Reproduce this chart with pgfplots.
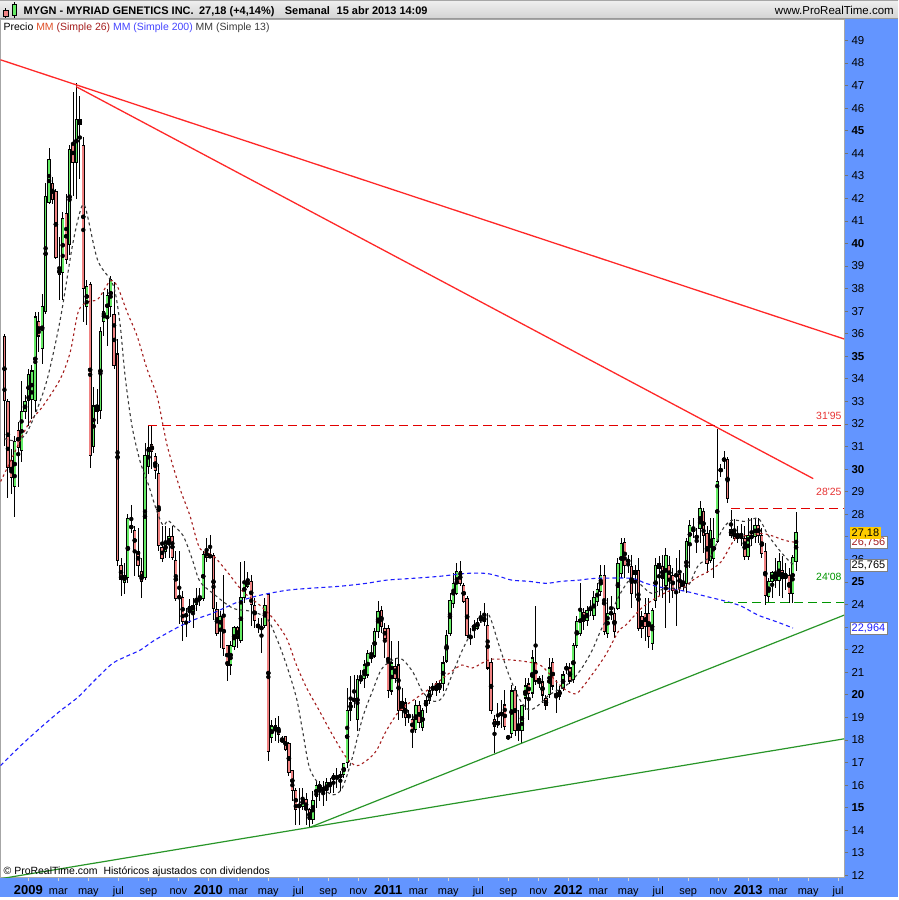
\documentclass[border=0pt]{standalone}
\usepackage{pgfplots}
\pgfplotsset{compat=1.18}
\usepackage{pgfplotstable}
\usepackage{fontspec}
\setmainfont{Liberation Sans}

\pgfdeclarelayer{background}
\pgfsetlayers{background,main}

\definecolor{stripblue}{RGB}{99,149,255}
\definecolor{upgreen}{RGB}{100,235,100}
\definecolor{downred}{RGB}{240,130,130}
\definecolor{trendred}{RGB}{255,40,40}
\definecolor{trendgreen}{RGB}{40,150,40}
\definecolor{mared}{RGB}{165,30,30}
\definecolor{mablue}{RGB}{30,30,255}
\definecolor{magray}{RGB}{60,60,60}
\definecolor{levred}{RGB}{225,0,0}
\definecolor{levgreen}{RGB}{0,150,0}
\definecolor{mmorange}{RGB}{224,80,40}
\definecolor{legblue}{RGB}{70,70,255}

% weekly candles: i = week index, o h l c
\pgfplotstableread{
i o h l c
0 35.86 35.99 31.04 33.03
1 32.98 33.10 28.70 30.07
2 30.38 30.90 28.90 29.63
3 29.23 31.48 27.90 31.22
4 31.70 32.10 29.23 30.95
5 30.82 33.90 30.33 32.54
6 32.54 33.30 32.20 32.98
7 33.03 34.44 31.90 34.18
8 33.10 34.60 32.20 34.35
9 33.03 36.96 32.54 36.74
10 36.56 36.96 35.20 35.90
11 35.33 37.76 34.66 37.20
12 37.00 42.70 36.87 42.09
13 41.82 44.25 41.73 43.72
14 42.66 42.93 41.73 41.95
15 42.31 42.40 39.30 39.39
16 38.86 40.30 37.50 38.64
17 38.73 41.40 37.50 41.12
18 41.34 42.20 39.08 39.30
19 39.97 44.38 39.50 44.16
20 44.43 46.73 42.10 43.59
21 43.59 47.13 41.95 45.49
22 45.49 46.55 42.84 45.27
23 44.34 44.70 36.50 38.02
24 37.20 38.40 36.40 38.10
25 38.20 38.30 30.07 30.60
26 31.00 33.65 30.70 32.80
27 32.80 33.56 32.00 32.54
28 32.60 36.30 32.20 36.10
29 36.56 37.85 35.90 37.00
30 36.78 38.00 35.46 37.70
31 37.20 38.55 36.74 38.40
32 36.87 38.30 34.44 34.58
33 35.10 35.77 25.70 25.96
34 25.74 26.05 24.37 25.12
35 24.99 25.83 24.46 25.30
36 25.20 28.00 24.94 27.80
37 27.50 28.43 27.15 27.37
38 27.28 27.46 25.25 26.40
39 26.36 27.37 25.20 25.74
40 25.47 26.05 24.28 25.03
41 25.20 31.17 25.07 30.60
42 30.11 31.90 29.80 30.95
43 31.08 31.92 30.00 30.77
44 30.55 30.70 29.58 29.94
45 29.80 30.25 26.36 26.62
46 26.53 27.50 25.90 26.05
47 26.36 27.46 26.05 26.70
48 26.70 27.37 26.05 27.00
49 27.00 27.46 25.96 26.10
50 25.96 26.36 24.15 24.28
51 24.37 26.36 23.13 24.28
52 24.32 24.59 22.38 23.26
53 23.48 23.84 22.56 23.57
54 23.70 24.24 23.17 23.93
55 23.70 24.28 22.95 23.97
56 24.00 24.72 23.70 24.28
57 24.37 24.72 23.93 24.19
58 24.28 26.36 24.15 26.22
59 26.36 26.93 25.90 26.10
60 26.18 27.06 26.05 26.10
61 26.18 26.27 23.30 23.84
62 23.79 24.10 22.60 22.73
63 22.95 23.70 22.07 23.48
64 23.57 25.30 21.72 22.07
65 22.20 22.20 20.60 21.32
66 21.32 22.38 20.88 22.20
67 22.16 23.04 21.98 23.00
68 23.00 23.04 22.07 22.51
69 22.42 25.90 22.29 24.32
70 24.32 25.91 24.06 25.03
71 24.81 25.43 24.72 25.08
72 25.03 25.30 23.04 24.01
73 23.97 24.28 22.95 23.31
74 23.09 23.40 22.73 23.00
75 23.00 23.40 21.85 22.91
76 23.09 24.28 22.95 23.97
77 24.46 24.50 17.08 17.47
78 18.09 18.89 17.87 18.62
79 18.45 18.98 17.96 18.62
80 18.54 19.07 17.87 18.23
81 18.00 18.18 17.87 17.96
82 18.14 18.18 17.52 17.56
83 17.83 17.92 16.41 16.55
84 16.64 16.68 15.31 15.75
85 15.75 15.88 14.25 14.91
86 15.13 15.88 14.25 15.04
87 15.04 15.88 14.91 15.44
88 15.35 15.66 14.25 14.91
89 14.91 15.00 14.12 14.47
90 14.47 15.75 14.29 15.31
91 15.49 16.19 15.00 15.97
92 16.02 16.19 15.31 15.84
93 15.88 16.19 15.09 15.71
94 15.75 16.33 15.31 16.10
95 15.97 16.33 15.66 16.10
96 16.24 16.55 15.66 16.41
97 16.33 16.77 15.88 16.37
98 16.33 16.64 15.75 16.46
99 16.46 17.00 16.33 16.94
100 17.00 20.30 16.77 19.29
101 19.33 20.83 18.84 19.64
102 19.73 20.88 19.42 19.82
103 18.89 20.88 18.40 20.66
104 20.66 21.10 20.48 20.70
105 20.74 21.54 20.30 21.32
106 20.88 21.98 20.74 21.85
107 21.63 22.20 21.41 21.72
108 21.72 22.95 21.63 22.82
109 22.82 24.15 22.51 23.70
110 23.75 23.93 22.73 23.04
111 22.95 23.17 21.63 22.51
112 22.95 23.09 19.86 20.21
113 20.17 22.38 20.00 21.41
114 21.27 21.63 20.52 20.74
115 21.32 22.38 18.89 19.29
116 19.68 20.30 18.98 19.29
117 19.64 19.86 18.62 18.98
118 19.11 19.33 18.76 19.02
119 18.89 19.15 17.65 18.45
120 18.45 19.77 18.31 19.51
121 19.51 19.73 18.54 18.76
122 18.54 19.42 18.40 19.29
123 19.51 19.95 19.20 19.73
124 19.73 20.39 19.60 20.17
125 20.26 20.52 20.00 20.35
126 20.21 20.61 19.95 20.48
127 20.26 20.61 20.08 20.52
128 20.52 21.72 20.17 21.41
129 21.50 22.87 21.41 22.64
130 22.73 24.50 22.60 24.19
131 24.06 25.38 23.84 24.94
132 24.50 25.83 24.41 25.47
133 25.47 25.91 24.81 24.94
134 24.85 24.94 24.06 24.15
135 24.28 24.37 22.51 22.64
136 22.60 22.95 22.20 22.51
137 22.95 23.31 22.51 23.09
138 22.95 23.40 22.87 23.22
139 23.31 23.70 23.17 23.48
140 23.44 24.06 23.04 23.26
141 23.09 23.62 21.10 21.19
142 21.45 21.63 19.15 19.29
143 18.89 19.11 17.43 18.58
144 18.80 19.64 18.54 18.67
145 19.11 19.77 18.54 19.20
146 19.55 20.21 18.45 18.58
147 18.14 18.23 18.00 18.09
148 18.27 20.44 18.09 20.17
149 20.21 20.39 18.18 18.40
150 18.67 19.33 17.96 18.40
151 18.40 19.55 17.87 19.51
152 19.86 20.74 19.33 20.39
153 20.48 20.74 18.89 20.04
154 20.08 21.98 19.86 21.63
155 21.41 23.93 20.44 20.61
156 20.70 20.83 20.30 20.61
157 20.57 20.88 19.64 19.99
158 19.82 20.00 19.33 19.51
159 20.00 21.63 19.86 21.19
160 21.45 21.63 20.21 20.39
161 20.04 20.66 19.20 19.95
162 19.95 20.39 19.77 20.21
163 20.30 21.05 20.17 20.88
164 21.23 21.41 20.92 21.14
165 21.19 21.41 20.48 20.61
166 20.66 22.29 20.52 22.20
167 22.20 23.48 22.07 23.26
168 22.73 24.94 22.60 23.84
169 23.66 23.84 22.87 23.26
170 23.31 23.93 23.04 23.75
171 23.75 24.19 23.48 23.84
172 23.53 24.59 23.31 24.32
173 24.15 24.94 23.93 24.68
174 24.59 25.74 24.37 25.30
175 25.30 25.74 22.64 22.82
176 22.73 24.28 22.51 23.62
177 23.57 24.37 23.31 23.66
178 23.62 23.84 22.51 22.82
179 23.84 26.05 23.75 25.83
180 25.38 26.93 25.16 26.71
181 26.75 26.93 25.16 25.74
182 26.00 26.18 25.38 25.87
183 25.69 26.18 23.84 24.50
184 25.52 25.74 24.28 25.34
185 25.52 26.05 22.82 22.95
186 23.48 23.70 22.51 22.95
187 23.62 24.28 22.38 23.04
188 23.62 24.28 22.07 22.60
189 22.29 23.84 21.98 23.75
190 24.19 26.05 23.84 25.74
191 25.83 26.14 24.37 25.61
192 25.69 26.18 24.28 25.16
193 24.85 26.49 22.95 26.18
194 25.74 26.14 24.06 25.08
195 25.30 25.61 24.28 24.63
196 25.25 26.05 23.04 25.34
197 25.34 26.40 24.50 24.77
198 24.81 25.38 24.59 24.99
199 24.94 26.93 24.50 26.80
200 26.71 27.73 25.61 27.50
201 27.37 27.82 26.93 27.24
202 27.06 27.37 26.27 26.93
203 27.37 28.57 26.71 28.26
204 28.12 28.26 26.27 27.06
205 27.15 27.50 25.38 25.83
206 25.96 27.82 25.83 27.28
207 26.05 27.82 25.16 26.93
208 26.80 31.79 26.71 29.45
209 29.89 30.25 29.67 30.02
210 30.47 30.82 30.02 30.38
211 30.42 30.55 28.48 28.70
212 27.33 28.17 26.93 27.06
213 27.24 27.77 26.80 26.93
214 26.93 27.46 26.71 27.11
215 26.93 27.59 26.58 27.06
216 26.93 27.46 25.96 26.14
217 26.14 27.82 25.96 27.06
218 27.06 27.82 26.58 26.93
219 27.02 27.82 26.71 27.50
220 27.50 27.82 26.71 27.06
221 27.06 27.37 26.05 26.27
222 26.36 26.71 23.97 24.41
223 24.37 25.16 24.06 25.03
224 25.03 25.47 24.28 25.43
225 25.08 26.05 24.72 25.34
226 25.08 26.27 24.37 25.91
227 25.52 26.14 24.28 25.16
228 25.38 25.83 24.63 25.16
229 25.30 25.61 24.06 24.50
230 24.50 26.18 24.06 26.10
231 25.90 28.08 25.47 27.18
}\ohlc

\begin{document}
\begin{tikzpicture}[x=1pt,y=1pt]
\begin{axis}[
  scale only axis, width=846pt, height=861pt,
  xmin=-1.16, xmax=245, ymin=11.907, ymax=49.95,
  axis line style={draw=gray!70},
  tick align=outside, major tick length=4pt,
  xtick pos=left, ytick pos=right, yticklabel pos=right,
  xtick={6.98,15.73,24.48,33.24,41.99,50.74,59.49,68.24,77.00,85.75,94.50,103.25,112.00,120.76,129.51,138.26,147.01,155.76,164.52,173.27,182.02,190.77,199.52,208.28,217.03,225.78,234.53,243.28},
  xticklabels={\textbf{\fontsize{13}{14}\selectfont 2009},mar,may,jul,sep,nov,\textbf{\fontsize{13}{14}\selectfont 2010},mar,may,jul,sep,nov,\textbf{\fontsize{13}{14}\selectfont 2011},mar,may,jul,sep,nov,\textbf{\fontsize{13}{14}\selectfont 2012},mar,may,jul,sep,nov,\textbf{\fontsize{13}{14}\selectfont 2013},mar,may,jul},
  ytick={12,...,49},
  yticklabels={12,13,14,\textbf{15},16,17,18,19,\textbf{20},21,22,23,24,\textbf{25},26,27,28,29,\textbf{30},31,32,33,34,\textbf{35},36,37,38,39,\textbf{40},41,42,43,44,\textbf{45},46,47,48,49},
  xticklabel style={anchor=base, yshift=-13pt, font=\fontsize{11}{12}\selectfont},
  yticklabel style={anchor=west, font=\fontsize{11.5}{12}\selectfont},
  xtick style={draw=gray!35, line width=0.8pt},
  ytick style={draw=gray!90!black, line width=0.8pt},
]

% wicks
\addplot[only marks, mark=none,
  error bars/.cd, y dir=both, y explicit, error mark=none,
  error bar style={draw=black, line width=0.9pt}]
  table[x=i, y expr={(\thisrow{h}+\thisrow{l})/2}, y error expr={(\thisrow{h}-\thisrow{l})/2}] {\ohlc};

% rising bodies
\addplot[only marks, mark=none, restrict y to domain=0:100,
  error bars/.cd, y dir=both, y explicit, error mark=none,
  error bar style={draw=black, line width=3.3pt}]
  table[x=i, y expr={\thisrow{c}>=\thisrow{o} ? (\thisrow{o}+\thisrow{c})/2 : -100},
        y error expr={abs(\thisrow{c}-\thisrow{o})/2+0.025}] {\ohlc};
\addplot[only marks, mark=none, restrict y to domain=0:100,
  error bars/.cd, y dir=both, y explicit, error mark=none,
  error bar style={draw=upgreen, line width=1.8pt}]
  table[x=i, y expr={\thisrow{c}>=\thisrow{o} ? (\thisrow{o}+\thisrow{c})/2 : -100},
        y error expr={max(abs(\thisrow{c}-\thisrow{o})/2-0.025,0)}] {\ohlc};

% falling bodies
\addplot[only marks, mark=none, restrict y to domain=0:100,
  error bars/.cd, y dir=both, y explicit, error mark=none,
  error bar style={draw=black, line width=3.3pt}]
  table[x=i, y expr={\thisrow{c}<\thisrow{o} ? (\thisrow{o}+\thisrow{c})/2 : -100},
        y error expr={abs(\thisrow{c}-\thisrow{o})/2+0.025}] {\ohlc};
\addplot[only marks, mark=none, restrict y to domain=0:100,
  error bars/.cd, y dir=both, y explicit, error mark=none,
  error bar style={draw=downred, line width=1.8pt}]
  table[x=i, y expr={\thisrow{c}<\thisrow{o} ? (\thisrow{o}+\thisrow{c})/2 : -100},
        y error expr={max(abs(\thisrow{c}-\thisrow{o})/2-0.025,0)}] {\ohlc};

% MM 200
\addplot[mablue, line width=1.1pt, dash pattern=on 4pt off 3pt, smooth] coordinates {
(-1.16,16.86) (4.7,17.74) (10.5,18.54) (16.3,19.29) (21.2,19.86) (25.0,20.44) (27.9,20.88)
(31.7,21.41) (35.8,21.72) (39.6,21.98) (43.4,22.38) (47.4,22.73) (51.2,23.04) (55.0,23.31)
(60.8,23.62) (68.7,24.15) (74.5,24.41) (82.3,24.63) (89.0,24.72) (97.8,24.81) (105.6,24.94)
(111.4,25.08) (119.0,25.16) (126.9,25.25) (134.7,25.38) (140.5,25.38) (144.3,25.25)
(148.1,25.08) (153.0,25.03) (158.0,24.94) (162.6,25.03) (167.6,25.08) (172.5,25.16)
(183.0,25.16) (187.1,24.94) (192.9,24.72) (198.7,24.59) (204.5,24.37) (210.4,24.15)
(215.0,23.93) (219.9,23.53) (224.9,23.26) (230.1,22.96)
};

% MM 26
\addplot[mared, line width=1.1pt, dash pattern=on 2.5pt off 3pt, smooth] coordinates {
(-1.16,29.45) (1.7,30.33) (6.7,31.92) (11.3,32.81) (16.3,34.0) (19.2,35.19) (21.5,36.96)
(24.1,37.4) (27.3,37.54) (30.8,38.33) (32.9,38.11) (35.8,36.96) (38.7,35.9) (41.6,34.44)
(44.5,33.25) (46.3,31.92) (47.7,30.91) (51.2,29.14) (54.1,27.95) (57.0,26.49) (60.8,26.18)
(64.9,25.47) (69.5,24.59) (74.5,23.97) (78.3,23.4) (82.3,22.51) (85.2,21.32) (88.2,20.3)
(91.9,19.29) (95.7,18.23) (99.8,17.21) (102.7,16.86) (105.6,17.08) (108.5,17.52)
(111.4,18.4) (115.2,19.29) (119.0,19.73) (123.1,20.17) (126.9,20.61) (130.6,21.05)
(133.5,21.32) (136.5,21.19) (139.4,21.41) (142.3,21.58) (148.1,21.54) (153.0,21.45)
(156.8,21.27) (160.9,20.61) (163.8,20.21) (166.7,20.04) (168.5,20.3) (171.4,20.88)
(175.4,21.76) (179.2,22.82) (181.3,23.09) (185.9,23.84) (190.0,24.28) (193.8,24.59)
(197.6,24.72) (201.6,25.16) (205.4,25.47) (209.2,25.91) (213.3,26.93) (217.1,27.06)
(220.8,27.15) (223.7,27.06) (227.8,26.84) (230.7,26.76)
};

% MM 13
\addplot[magray, line width=1.1pt, dash pattern=on 3pt off 3pt, smooth] coordinates {
(0,31.35) (3.2,31.26) (6.1,31.53) (9.0,32.45) (12.5,34.0) (16.3,36.65) (19.8,39.88)
(22.1,41.43) (23.6,41.6) (27.1,39.3) (30.8,38.42) (32.3,37.85) (33.8,36.34) (35.2,34.13)
(37.2,31.92) (39.6,30.33) (41.9,29.36) (44.5,28.12) (46.3,27.51) (47.7,27.73) (49.2,27.51)
(52.1,27.06) (54.7,26.05) (57.0,25.03) (60.8,24.5) (66.6,23.84) (71.6,23.71) (76.5,23.4)
(79.4,22.51) (82.3,21.32) (85.2,19.86) (87.0,18.4) (89.0,16.77) (91.9,16.02) (95.7,15.57)
(98.6,15.88) (101.5,17.21) (104.5,18.98) (107.4,20.17) (110.3,21.19) (115.2,21.63)
(119.0,21.05) (121.9,20.17) (124.8,19.73) (127.7,19.86) (130.6,20.88) (133.5,21.94)
(136.5,22.82) (139.4,23.26) (141.4,23.53) (144.3,22.2) (147.2,20.88) (150.1,19.86)
(153.0,19.33) (155.9,19.55) (158.9,19.99) (162.6,20.3) (165.5,20.61) (168.5,21.19)
(171.4,21.94) (174.3,22.95) (177.2,23.71) (180.1,24.59) (183.0,25.16) (185.9,24.85)
(188.8,24.5) (192.9,24.72) (196.7,24.72) (199.6,24.85) (202.5,25.74) (206.3,26.18)
(209.2,27.24) (212.1,27.73) (216.2,27.68) (220.0,27.81) (222.9,27.06) (226.4,26.36)
(229.6,25.83) (231,25.77)
};

% trend lines
\addplot[trendred, line width=1.3pt] coordinates {(-1.16,48.14) (245,35.77)};
\addplot[trendred, line width=1.3pt] coordinates {(20.9,46.95) (236.0,29.58)};
\addplot[trendgreen, line width=1.2pt] coordinates {(89.0,14.12) (245,23.53)};
\addplot[trendgreen, line width=1.2pt] coordinates {(-1.16,11.85) (245,18.05)};

% levels
\addplot[levred, line width=1pt, dash pattern=on 9pt off 5pt] coordinates {(41.9,31.95) (245,31.95)};
\addplot[levred, line width=1pt, dash pattern=on 9pt off 5pt] coordinates {(212.1,28.25) (245,28.25)};
\addplot[levgreen, line width=1pt, dash pattern=on 9pt off 5pt] coordinates {(210.1,24.08) (245,24.08)};

\node[anchor=east, text=levred!80, font=\fontsize{10.5}{12}\selectfont, inner sep=1pt] at (axis cs:244.6,32.37) {31\textquotesingle 95};
\node[anchor=east, text=levred!80, font=\fontsize{10.5}{12}\selectfont, inner sep=1pt] at (axis cs:244.6,29.01) {28\textquotesingle 25};
\node[anchor=east, text=levgreen, font=\fontsize{10.5}{12}\selectfont, inner sep=1pt] at (axis cs:244.6,25.21) {24\textquotesingle 08};

\coordinate (O) at (rel axis cs:0,0);
\end{axis}

\begin{scope}[shift={(O)}]
% page background and the blue scale strips
\begin{pgfonlayer}{background}
\fill[white] (0,-20) rectangle (900,880);
\fill[stripblue] (0,-20) rectangle (900,0);
\fill[stripblue] (846,-20) rectangle (900,861);
\end{pgfonlayer}

% header
\shade[top color=gray!12, bottom color=gray!35] (0,861) rectangle (900,880);
\draw[gray!70, line width=1pt] (0,879.5) -- (900,879.5);
\draw[gray!80, line width=1pt] (0,861) -- (900,861);
\draw[black, line width=0.8pt] (5,862) -- (5,872);
\draw[black, line width=0.6pt, fill=downred] (3,864) rectangle (7.5,870);
\draw[black, line width=0.8pt] (13.5,862) -- (13.5,878);
\draw[black, line width=0.6pt, fill=upgreen] (11.5,865) rectangle (16,876);
\node[anchor=base west, inner sep=0, font=\fontsize{11}{13}\selectfont\bfseries] at (23,865) {MYGN - MYRIAD GENETICS INC.};
\node[anchor=base west, inner sep=0, font=\fontsize{11}{13}\selectfont\bfseries] at (199,865) {27,18 (+4,14\%)};
\node[anchor=base west, inner sep=0, font=\fontsize{11}{13}\selectfont\bfseries] at (285,865) {Semanal};
\node[anchor=base west, inner sep=0, font=\fontsize{11}{13}\selectfont\bfseries] at (337,865) {15 abr 2013 14:09};
\node[anchor=base east, inner sep=0, font=\fontsize{11.5}{13}\selectfont] at (896,865) {www.ProRealTime.com};

% legend row
\node[anchor=base west, inner sep=0, font=\fontsize{10.5}{12}\selectfont] at (3,849)
  {Precio \textcolor{mmorange}{MM} \textcolor{mared}{(Simple 26)} \textcolor{legblue}{MM (Simple 200)} \textcolor{magray}{MM (Simple 13)}};

% footer note
\node[anchor=base west, inner sep=0, font=\fontsize{10.5}{12}\selectfont] at (3,3) {© ProRealTime.com \ Históricos ajustados con dividendos};

% last value boxes
\node[anchor=west, draw=gray, fill=white, text=mablue, inner xsep=1.5pt, inner ysep=1.5pt, font=\fontsize{11}{12}\selectfont] at (852,250) {22,964};
\node[anchor=west, draw=gray, fill=white, text=black, inner xsep=1.5pt, inner ysep=1.5pt, font=\fontsize{11}{12}\selectfont] at (852,313) {25,765};
\node[anchor=west, draw=gray, fill=white, text=mared, inner xsep=1.5pt, inner ysep=1.5pt, font=\fontsize{11}{12}\selectfont] at (852,336) {26,756};
\node[anchor=west, fill={rgb,255:red,255;green,204;blue,0}, text=black, inner xsep=1.5pt, inner ysep=1.5pt, font=\fontsize{11}{12}\selectfont] at (852,345) {27,18};
\end{scope}
\end{tikzpicture}
\end{document}
